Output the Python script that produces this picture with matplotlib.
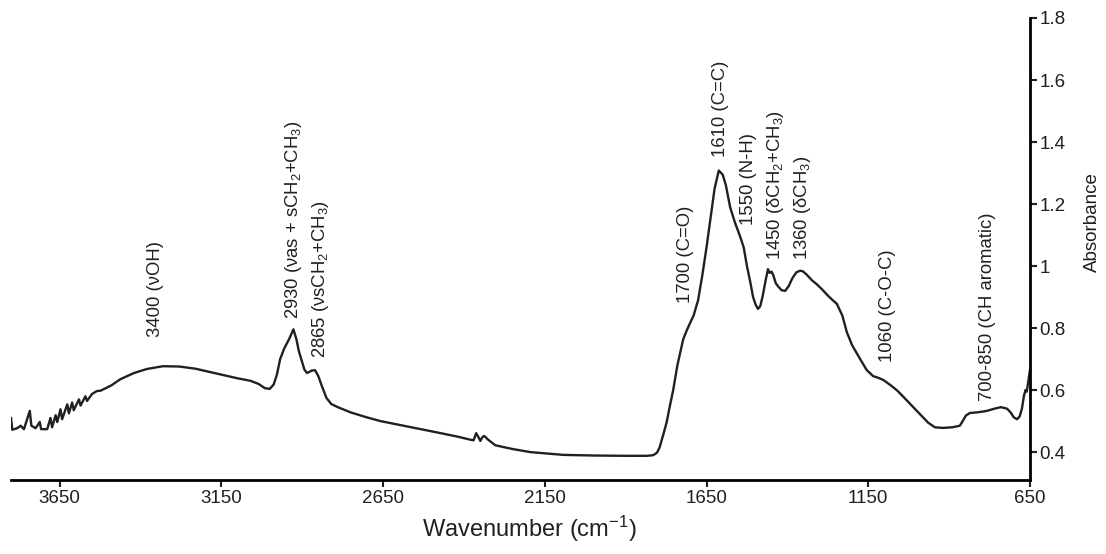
import matplotlib
matplotlib.use("Agg")
import matplotlib.pyplot as plt
from matplotlib.ticker import FormatStrFormatter

plt.rcParams['font.family'] = ['Liberation Sans', 'DejaVu Sans']
plt.rcParams['mathtext.fontset'] = 'custom'
plt.rcParams['mathtext.rm'] = 'Liberation Sans'
plt.rcParams['mathtext.default'] = 'regular'

# FTIR spectrum (wavenumber in cm-1, absorbance)
wavenumber = [
    3800, 3796, 3781, 3770, 3760, 3752, 3742, 3737, 3724, 3711, 3707, 3688,
    3678, 3673, 3662, 3657, 3647, 3642, 3626, 3621, 3611, 3606, 3590, 3585,
    3570, 3565, 3549, 3534, 3523, 3490, 3462, 3420, 3380, 3330, 3280, 3230,
    3180, 3130, 3100, 3060, 3035, 3015, 3000, 2988, 2978, 2968, 2955, 2940,
    2927, 2918, 2910, 2900, 2893, 2885, 2870, 2860, 2850, 2838, 2825, 2810,
    2790, 2750, 2700, 2658, 2600, 2500, 2420, 2380, 2370, 2362, 2355, 2349,
    2343, 2337, 2325, 2303, 2250, 2195, 2140, 2093, 2000, 1900, 1834, 1815,
    1803, 1795, 1784, 1773, 1765, 1753, 1740, 1722, 1710, 1700, 1690, 1676,
    1663, 1650, 1637, 1625, 1612, 1600, 1590, 1577, 1562, 1546, 1535, 1525,
    1515, 1506, 1498, 1491, 1484, 1476, 1468, 1460, 1455, 1449, 1444, 1436,
    1429, 1418, 1407, 1396, 1385, 1372, 1360, 1352, 1340, 1325, 1310, 1293,
    1275, 1260, 1247, 1230, 1216, 1200, 1175, 1155, 1135, 1120, 1104, 1080,
    1060, 1043, 1020, 990, 965, 944, 920, 890, 867, 858, 848, 836, 815, 800,
    783, 760, 740, 721, 710, 700, 690, 682, 675, 669, 664, 660, 655, 650,
]
absorbance = [
    0.510, 0.472, 0.477, 0.485, 0.474, 0.500, 0.533, 0.485, 0.477, 0.497, 0.474, 0.474,
    0.510, 0.480, 0.519, 0.497, 0.538, 0.506, 0.554, 0.525, 0.560, 0.535, 0.570, 0.550,
    0.580, 0.565, 0.588, 0.597, 0.598, 0.615, 0.635, 0.655, 0.668, 0.677, 0.676, 0.669,
    0.657, 0.645, 0.638, 0.630, 0.620, 0.606, 0.604, 0.618, 0.650, 0.700, 0.735, 0.765,
    0.796, 0.765, 0.725, 0.690, 0.666, 0.655, 0.663, 0.664, 0.645, 0.610, 0.575, 0.555,
    0.545, 0.528, 0.512, 0.500, 0.488, 0.467, 0.450, 0.440, 0.438, 0.461, 0.448, 0.436,
    0.448, 0.452, 0.440, 0.422, 0.410, 0.400, 0.395, 0.391, 0.389, 0.388, 0.388, 0.390,
    0.398, 0.415, 0.455, 0.497, 0.540, 0.600, 0.680, 0.764, 0.795, 0.818, 0.840, 0.890,
    0.970, 1.060, 1.160, 1.250, 1.308, 1.295, 1.260, 1.190, 1.140, 1.095, 1.060, 1.000,
    0.950, 0.900, 0.875, 0.862, 0.870, 0.905, 0.950, 0.990, 0.978, 0.982, 0.972, 0.945,
    0.935, 0.922, 0.920, 0.935, 0.960, 0.980, 0.985, 0.983, 0.972, 0.955, 0.942, 0.925,
    0.905, 0.890, 0.878, 0.840, 0.786, 0.745, 0.700, 0.665, 0.645, 0.640, 0.633, 0.615,
    0.598, 0.580, 0.555, 0.522, 0.495, 0.480, 0.478, 0.480, 0.485, 0.500, 0.518, 0.526,
    0.528, 0.530, 0.533, 0.540, 0.545, 0.540, 0.528, 0.512, 0.506, 0.515, 0.540, 0.580,
    0.600, 0.595, 0.630, 0.665,
]

# band assignments: label, x position (cm-1), bottom of text (absorbance)
band_labels = [
    "3400 (\u03bdOH)",
    "2930 (\u03bdas + sCH$_2$+CH$_3$)",
    "2865 (\u03bdsCH$_2$+CH$_3$)",
    "1700 (C=O)",
    "1610 (C=C)",
    "1550 (N-H)",
    "1450 (\u03b4CH$_2$+CH$_3$)",
    "1360 (\u03b4CH$_3$)",
    "1060 (C-O-C)",
    "700-850 (CH aromatic)",
]
band_x = [3353, 2927, 2844, 1716, 1608, 1521, 1438, 1352, 1092, 780]
band_y = [0.770, 0.828, 0.705, 0.880, 1.352, 1.134, 1.020, 1.020, 0.689, 0.565]

xticks = [3650, 3150, 2650, 2150, 1650, 1150, 650]
yticks = [0.4, 0.6, 0.8, 1.0, 1.2, 1.4, 1.6, 1.8]

fig = plt.figure(figsize=(11.06, 5.54), dpi=100)
ax = fig.add_axes([11 / 1106, 74 / 554, 1019 / 1106, 462 / 554])

ax.plot(wavenumber, absorbance, color="#231f20", lw=1.7, solid_joinstyle="round")

for txt, x, y in zip(band_labels, band_x, band_y):
    ax.text(x, y, txt, rotation=90, ha="center", va="bottom",
            fontsize=13.3, color="#231f20")

ax.set_xlim(3800, 650)
ax.set_ylim(0.31, 1.8)
ax.set_xticks(xticks)
ax.set_yticks(yticks)
ax.yaxis.set_major_formatter(FormatStrFormatter("%g"))

ax.spines["top"].set_visible(False)
ax.spines["left"].set_visible(False)
ax.spines["right"].set_linewidth(2.0)
ax.spines["bottom"].set_linewidth(2.0)
ax.yaxis.tick_right()
ax.yaxis.set_label_position("right")
ax.tick_params(axis="both", direction="out", length=5, width=1.5,
               labelsize=13.5, colors="#231f20", pad=2)

ax.set_xlabel("Wavenumber (cm$^{-1}$)", fontsize=17, color="#231f20")
ax.xaxis.set_label_coords(0.509, -0.074)
ax.set_ylabel("Absorbance", fontsize=13.5, color="#231f20")
ax.yaxis.set_label_coords(1.053, 0.558)

fig.savefig("out.png", dpi=100)
